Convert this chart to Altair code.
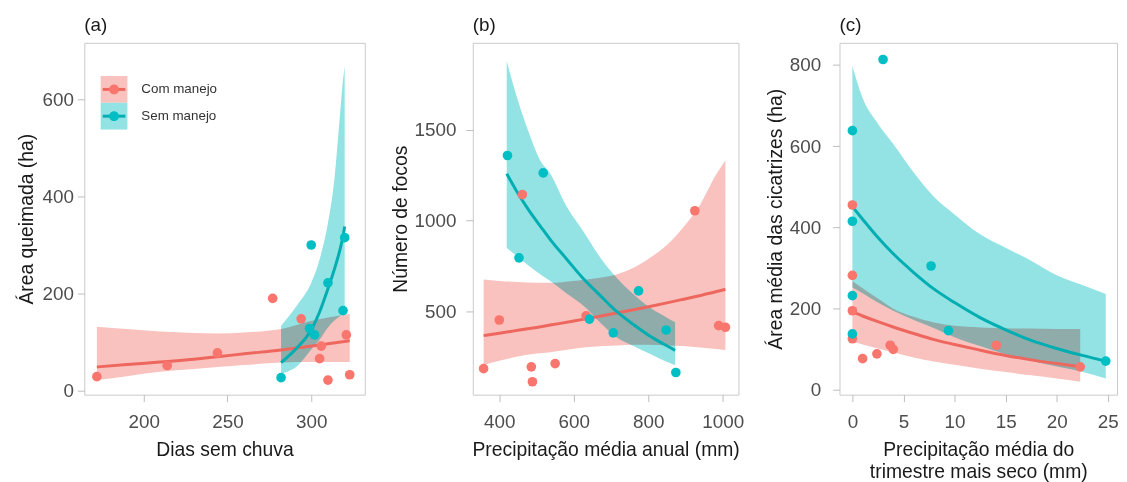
import altair as alt
import pandas as pd

FONT = "Liberation Sans"
GROUPS = ["Com manejo", "Sem manejo"]
POINT_COLORS = ["#F8766D", "#00BFC4"]
LINE_COLORS = ["#EE675E", "#00AEB2"]
BAND_COLORS = ["#F9C2BE", "#93E2E4"]

# ---------------- panel (a) ----------------
A_COM_X = [172, 214, 244, 277, 294, 306, 305, 310, 321, 323]
A_COM_Y = [29, 52, 78, 190, 148, 92, 66, 22, 115, 33]
A_SEM_X = [282, 300, 299, 302, 310, 319, 320]
A_SEM_Y = [27, 300, 128, 115, 222, 165, 315]
A_FIT_COM_X = [172, 190, 209.5, 230, 244, 260, 282, 300.5, 323]
A_FIT_COM_Y = [49, 54, 59, 65, 70, 76, 84, 92, 103]
A_FIT_COM_LO = [22, 30, 39, 45, 49, 53, 58, 59, 59]
A_FIT_COM_HI = [132, 127, 122, 119, 118, 120, 127, 144, 158]
A_FIT_SEM_X = [282, 292, 300, 305, 310, 314, 317, 319, 320]
A_FIT_SEM_Y = [58, 90, 125, 162, 210, 252, 288, 318, 338]
A_FIT_SEM_LO = [35, 52, 85, 105, 130, 145, 153, 158, 160]
A_FIT_SEM_HI = [134, 178, 222, 270, 345, 440, 560, 640, 668]

# ---------------- panel (b) ----------------
B_COM_X = [358, 400, 462, 486, 489, 550, 633, 925, 989, 1007]
B_COM_Y = [185, 453, 1143, 195, 113, 213, 476, 1054, 422, 413]
B_SEM_X = [422, 453, 518, 642, 706, 774, 848, 874]
B_SEM_Y = [1358, 795, 1262, 458, 382, 613, 398, 164]
B_FIT_COM_X = [358, 400, 450, 500, 537, 600, 650, 715, 760, 804, 850, 892, 940, 981, 1007]
B_FIT_COM_Y = [367, 380, 396, 412, 425, 447, 466, 491, 509, 527, 547, 566, 588, 608, 622]
B_FIT_COM_LO = [204, 228, 252, 268, 276, 295, 305, 313, 316, 316, 313, 310, 302, 293, 288]
B_FIT_COM_HI = [676, 668, 662, 658, 658, 668, 680, 703, 740, 794, 865, 958, 1090, 1249, 1331]
B_FIT_SEM_X = [420, 450, 480, 510, 537, 580, 626, 670, 715, 760, 804, 840, 872]
B_FIT_SEM_Y = [1258, 1150, 1055, 970, 895, 790, 680, 590, 500, 428, 365, 322, 286]
B_FIT_SEM_LO = [849, 800, 750, 705, 667, 600, 531, 440, 358, 310, 267, 232, 204]
B_FIT_SEM_HI = [1876, 1660, 1480, 1330, 1258, 1080, 940, 800, 685, 595, 522, 478, 440]

# ---------------- panel (c) ----------------
C_COM_X = [0, 0, 0, 0, 1.0, 2.4, 3.7, 4.0, 14.1, 22.3]
C_COM_Y = [455, 282, 195, 126, 77, 89, 110, 100, 110, 57]
C_SEM_X = [3.0, 0, 0, 7.7, 0, 9.4, 0, 24.8]
C_SEM_Y = [813, 638, 415, 305, 232, 146, 138, 71]
C_FIT_COM_X = [0, 1, 2.5, 4, 6, 8, 10, 12.5, 15, 17.5, 20, 22.3]
C_FIT_COM_Y = [192, 182, 168, 155, 139, 124, 112, 98, 85, 74, 65, 57]
C_FIT_COM_LO = [120, 112, 102, 92, 80, 70, 62, 52, 44, 36, 28, 20]
C_FIT_COM_HI = [268, 250, 225, 200, 180, 166, 158, 154, 152, 151, 150, 150]
C_FIT_SEM_X = [0, 1, 2.5, 4, 6, 8, 10, 12.5, 15, 17.5, 20, 22.5, 24.8]
C_FIT_SEM_Y = [451, 420, 375, 335, 289, 248, 215, 178, 148, 122, 102, 85, 71]
C_FIT_SEM_LO = [252, 238, 215, 195, 172, 152, 130, 108, 88, 72, 58, 45, 28]
C_FIT_SEM_HI = [797, 718, 655, 605, 535, 475, 432, 383, 350, 318, 282, 258, 236]


def make_points(xc, yc, xs, ys):
    g = [GROUPS[0]] * len(xc) + [GROUPS[1]] * len(xs)
    return pd.DataFrame({"x": list(xc) + list(xs), "y": list(yc) + list(ys),
                         "grupo": g, "grupo_p": g})


def make_fit(xc, yc, loc, hic, xs, ys, los, his):
    g = [GROUPS[0]] * len(xc) + [GROUPS[1]] * len(xs)
    return pd.DataFrame({"x": list(xc) + list(xs), "y": list(yc) + list(ys),
                         "lo": list(loc) + list(los), "hi": list(hic) + list(his),
                         "grupo": g, "grupo_l": g})


LEG_COMMON = dict(orient="none", legendX=16.5, legendY=33.5, title=None, padding=0,
                  rowPadding=0, labelFont=FONT, labelFontSize=13.5, labelColor="#333333",
                  labelOffset=14)


def panel(pts, fit, xdom, ydom, xvals, yvals, xtitle, ytitle, title, width,
          with_legend, title_pad, label_pad):
    xs = alt.Scale(domain=xdom, nice=False, zero=False)
    ys = alt.Scale(domain=ydom, nice=False, zero=False)
    xax = alt.Axis(values=xvals, title=xtitle, format="d", labelPadding=11, titlePadding=9)
    yax = alt.Axis(values=yvals, title=ytitle, format="d", labelPadding=label_pad,
                   titlePadding=title_pad)
    if with_legend:
        leg_fill = alt.Legend(symbolType="square", symbolSize=729, symbolStrokeWidth=0,
                              **LEG_COMMON)
        leg_line = alt.Legend(symbolType="M-1,-0.62M1,0.62M-0.95,0L0.95,0", symbolSize=576,
                              symbolStrokeWidth=3, symbolFillColor="transparent",
                              labelExpr="''", **LEG_COMMON)
        leg_pt = alt.Legend(symbolType="M-1,-1M1,1M0.37,0A0.37,0.37,0,1,1,-0.37,0A0.37,0.37,0,1,1,0.37,0Z",
                            symbolSize=729, symbolStrokeWidth=0, labelExpr="''",
                            **LEG_COMMON)
    else:
        leg_fill = leg_line = leg_pt = None

    band = alt.Chart(fit).mark_area(blend="multiply", interpolate="monotone").encode(
        x=alt.X("x:Q", scale=xs, axis=xax),
        y=alt.Y("lo:Q", scale=ys, axis=yax),
        y2="hi:Q",
        fill=alt.Fill("grupo:N", scale=alt.Scale(domain=GROUPS, range=BAND_COLORS),
                      legend=leg_fill),
    )
    line = alt.Chart(fit).mark_line(strokeWidth=3, interpolate="monotone").encode(
        x=alt.X("x:Q", scale=xs, axis=xax),
        y=alt.Y("y:Q", scale=ys, axis=yax),
        stroke=alt.Stroke("grupo_l:N", scale=alt.Scale(range=LINE_COLORS),
                          legend=leg_line),
    )
    dots = alt.Chart(pts).mark_circle(size=95, opacity=1).encode(
        x=alt.X("x:Q", scale=xs, axis=xax),
        y=alt.Y("y:Q", scale=ys, axis=yax),
        color=alt.Color("grupo_p:N", scale=alt.Scale(range=POINT_COLORS),
                        legend=leg_pt),
    )
    return alt.layer(band, line, dots).properties(
        width=width, height=355,
        title=alt.Title(title, anchor="start", frame="group", fontSize=19,
                        fontWeight="normal", color="#1A1A1A", font=FONT, offset=8),
    )


pa = panel(make_points(A_COM_X, A_COM_Y, A_SEM_X, A_SEM_Y),
           make_fit(A_FIT_COM_X, A_FIT_COM_Y, A_FIT_COM_LO, A_FIT_COM_HI,
                    A_FIT_SEM_X, A_FIT_SEM_Y, A_FIT_SEM_LO, A_FIT_SEM_HI),
           [164.5, 332], [-8, 716], [200, 250, 300], [0, 200, 400, 600],
           "Dias sem chuva", "Área queimada (ha)", "(a)", 283, True, 6, 4)

pb = panel(make_points(B_COM_X, B_COM_Y, B_SEM_X, B_SEM_Y),
           make_fit(B_FIT_COM_X, B_FIT_COM_Y, B_FIT_COM_LO, B_FIT_COM_HI,
                    B_FIT_SEM_X, B_FIT_SEM_Y, B_FIT_SEM_LO, B_FIT_SEM_HI),
           [329, 1042], [42, 1978], [400, 600, 800, 1000], [500, 1000, 1500],
           "Precipitação média anual (mm)", "Número de focos", "(b)", 268, False, 4, 10)

pc = panel(make_points(C_COM_X, C_COM_Y, C_SEM_X, C_SEM_Y),
           make_fit(C_FIT_COM_X, C_FIT_COM_Y, C_FIT_COM_LO, C_FIT_COM_HI,
                    C_FIT_SEM_X, C_FIT_SEM_Y, C_FIT_SEM_LO, C_FIT_SEM_HI),
           [-1.26, 25.9], [-11.5, 854], [0, 5, 10, 15, 20, 25], [0, 200, 400, 600, 800],
           ["Precipitação média do", "trimestre mais seco (mm)"],
           "Área média das cicatrizes (ha)", "(c)", 280, False, 4, 12)

chart = alt.hconcat(
    alt.hconcat(pa, pb, spacing=24),
    pc, spacing=20,
).resolve_scale(
    fill="independent", stroke="independent", color="independent"
).properties(
    padding={"left": 7, "top": 5, "right": 0, "bottom": 0}
).configure_view(
    stroke="#C9C9C9", strokeWidth=1
).configure_axis(
    grid=False, domain=False, ticks=True, tickSize=7, tickColor="#BDBDBD", tickWidth=1,
    labelFont=FONT, labelFontSize=19, labelColor="#4D4D4D",
    titleFont=FONT, titleFontSize=19.5, titleColor="#1A1A1A", titleFontWeight="normal",
    titleLineHeight=23,
).configure_concat(spacing=20)

chart.save("out.html", embed_options={"renderer": "svg", "actions": False})
